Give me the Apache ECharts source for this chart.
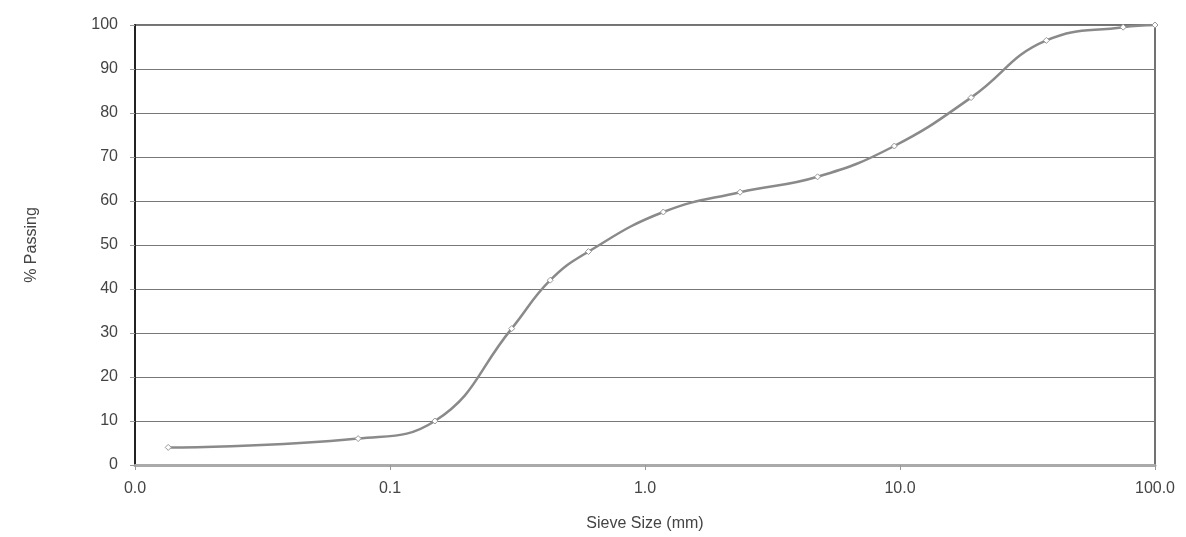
<!DOCTYPE html>
<html>
<head>
<meta charset="utf-8">
<script src="https://cdn.jsdelivr.net/npm/echarts@6/dist/echarts.min.js"></script>
<style>
html,body{margin:0;padding:0;background:#fff;}
#chart{width:1186px;height:537px;}
</style>
</head>
<body>
<div id="chart"></div>
<script>
// sieve sizes (mm) and % passing
var sieveSize = [0.0135, 0.075, 0.15, 0.3, 0.425, 0.6, 1.18, 2.36, 4.75, 9.5, 19, 37.5, 75, 100];
var passing   = [4, 6, 10, 31, 42, 48.5, 57.5, 62, 65.5, 72.5, 83.5, 96.5, 99.5, 100];
var yTicks = [0, 10, 20, 30, 40, 50, 60, 70, 80, 90, 100];

var myChart = echarts.init(document.getElementById('chart'));

var points = [];
for (var i = 0; i < sieveSize.length; i++) {
    points.push([sieveSize[i], passing[i]]);
}

var option = {
    backgroundColor: '#fff',
    animation: false,
    grid: {
        left: 135,
        right: 31,
        top: 25,
        bottom: 72,
        outerBoundsMode: 'none',
        show: true,
        borderColor: '#444',
        borderWidth: 1.5
    },
    xAxis: {
        type: 'log',
        logBase: 10,
        min: 0.01,
        max: 100,
        name: 'Sieve Size (mm)',
        nameLocation: 'middle',
        nameGap: 51,
        nameTextStyle: {fontFamily: 'Liberation Sans', fontSize: 16, color: '#444'},
        axisLine: {lineStyle: {color: '#aaa', width: 3}},
        axisTick: {show: true, length: 5, lineStyle: {color: '#999'}},
        minorTick: {show: false},
        splitLine: {show: false},
        axisLabel: {
            fontFamily: 'Liberation Sans',
            fontSize: 16,
            color: '#444',
            margin: 16,
            formatter: function (v) { return v.toFixed(1); }
        }
    },
    yAxis: {
        type: 'value',
        min: yTicks[0],
        max: yTicks[yTicks.length - 1],
        interval: 10,
        name: '% Passing',
        nameLocation: 'middle',
        nameGap: 95,
        nameTextStyle: {fontFamily: 'Liberation Sans', fontSize: 16, color: '#444'},
        axisLine: {show: true, lineStyle: {color: '#222', width: 2}},
        axisTick: {show: true, length: 5, lineStyle: {color: '#999'}},
        splitLine: {lineStyle: {color: '#777', width: 1}},
        axisLabel: {fontFamily: 'Liberation Sans', fontSize: 16, color: '#444', margin: 17}
    },
    series: [
        {
            type: 'line',
            data: points,
            smooth: 0.45,
            symbol: 'diamond',
            symbolSize: 6,
            lineStyle: {color: '#8a8a8a', width: 2.5},
            itemStyle: {color: '#fff', borderColor: '#999', borderWidth: 1}
        }
    ]
};
myChart.setOption(option);
</script>
</body>
</html>
